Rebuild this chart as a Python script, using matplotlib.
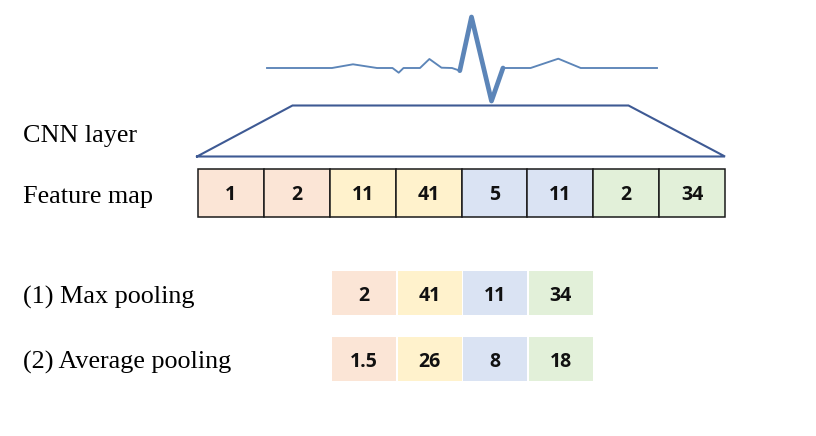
import matplotlib.pyplot as plt
from matplotlib.patches import Rectangle

# values
feature_map = [1, 2, 11, 41, 5, 11, 2, 34]
max_pooling = [2, 41, 11, 34]
avg_pooling = ["1.5", "26", "8", "18"]
group_colors = ["#FBE5D6", "#FFF2CC", "#DAE3F3", "#E2F0D9"]

# ECG trace (pixel space, y down)
ecg_x = [267, 332, 353, 377, 392.5, 398.7, 403.5, 420, 429.4, 441.5, 452, 459.8,
         471.5, 491.5, 503, 530.6, 558.3, 580.7, 657]
ecg_y = [68, 68, 64.3, 68, 68, 72.7, 68, 68, 59, 67.7, 68, 70.7,
         17, 101, 68, 68, 58.7, 68, 68]
QRS_START, QRS_END = 11, 14

W, H = 816, 436
fig = plt.figure(figsize=(W / 100, H / 100), dpi=100)
ax = fig.add_axes([0, 0, 1, 1])
ax.set_xlim(0, W)
ax.set_ylim(H, 0)
ax.axis("off")

serif = "Liberation Serif"
num_font = dict(family="Open Sans", weight="bold", fontsize=14, color="#111111")

# ECG signal
ax.plot(ecg_x[:QRS_START + 1], ecg_y[:QRS_START + 1], color="#5C85B8", lw=1.35,
        solid_joinstyle="round")
ax.plot(ecg_x[QRS_END:], ecg_y[QRS_END:], color="#5C85B8", lw=1.35,
        solid_joinstyle="round")
ax.plot(ecg_x[QRS_START:QRS_END + 1], ecg_y[QRS_START:QRS_END + 1],
        color="#5C85B8", lw=3.4, solid_joinstyle="round", solid_capstyle="round")

# CNN layer trapezoid
fm_left, fm_right = 198, 725
fm_top, fm_bot = 168.5, 216.5
ax.plot([fm_left - 1, 292.5, 628.5, fm_right, fm_left - 1],
        [156.5, 105.5, 105.5, 156.5, 156.5], color="#3E5A94", lw=1.5,
        solid_joinstyle="miter")

# feature map
cell_w = (fm_right - fm_left) / len(feature_map)
for i, v in enumerate(feature_map):
    x0 = fm_left + i * cell_w
    ax.add_patch(Rectangle((x0, fm_top), cell_w, fm_bot - fm_top,
                           facecolor=group_colors[i // 2], edgecolor="#1a1a1a", lw=1.1))
    ax.text(x0 + cell_w / 2, 199.5, str(v), ha="center", va="baseline", **num_font)

# pooled rows
pool_left = 332
pool_w = (594 - 332) / 4
rows = [(max_pooling, 271, 315, 300.8), (avg_pooling, 337, 381, 367)]
for vals, top, bot, base in rows:
    for i, v in enumerate(vals):
        x0 = pool_left + i * pool_w
        ax.add_patch(Rectangle((x0, top), pool_w - 1.5, bot - top,
                               facecolor=group_colors[i], edgecolor="none"))
        ax.text(x0 + pool_w / 2 - 0.75, base, str(v), ha="center", va="baseline", **num_font)

# labels
labels = [("CNN layer", 141.7), ("Feature map", 202.5),
          ("(1) Max pooling", 304), ("(2) Average pooling", 369)]
for txt, base in labels:
    ax.text(23, base, txt, family=serif, fontsize=18.8, ha="left", va="baseline",
            color="black")

fig.savefig("out.png", dpi=100)
